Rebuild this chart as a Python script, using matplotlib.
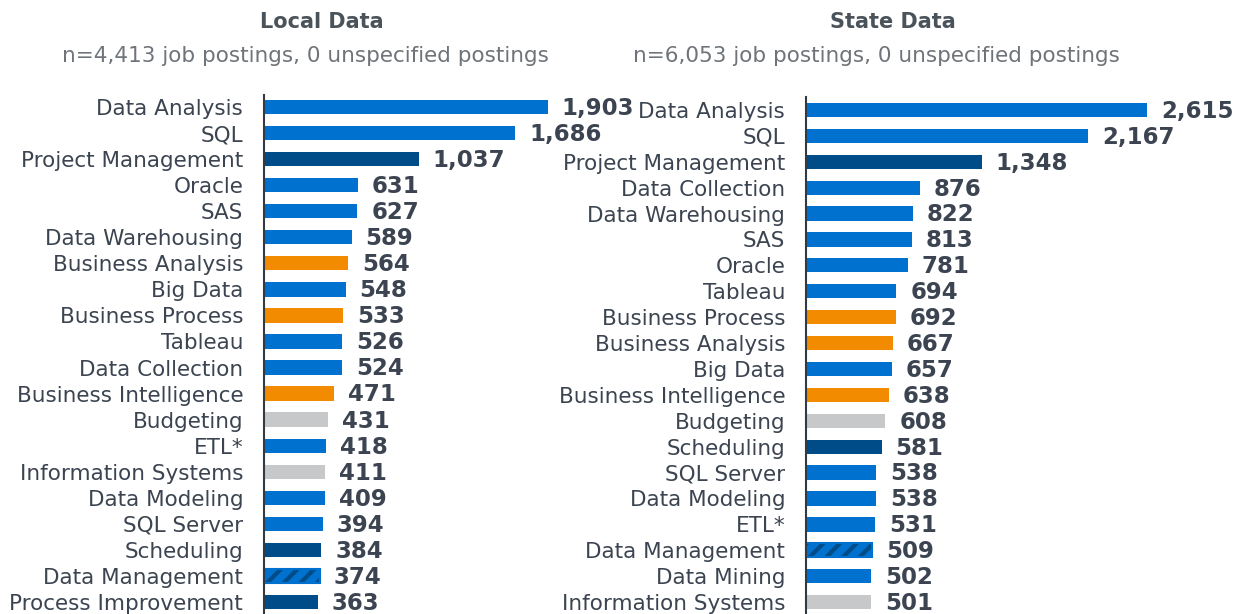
"""
Top skills in job postings: local vs state, horizontal bars.
"""
import matplotlib
matplotlib.use("Agg")
import matplotlib.pyplot as plt

# --- data ---
local_skills = ["Data Analysis", "SQL", "Project Management", "Oracle", "SAS",
                "Data Warehousing", "Business Analysis", "Big Data", "Business Process",
                "Tableau", "Data Collection", "Business Intelligence", "Budgeting",
                "ETL*", "Information Systems", "Data Modeling", "SQL Server",
                "Scheduling", "Data Management", "Process Improvement"]
local_counts = [1903, 1686, 1037, 631, 627, 589, 564, 548, 533, 526, 524, 471,
                431, 418, 411, 409, 394, 384, 374, 363]
local_groups = ["tech", "tech", "mgmt", "tech", "tech", "tech", "biz", "tech", "biz",
                "tech", "tech", "biz", "admin", "tech", "admin", "tech", "tech",
                "mgmt", "mixed", "mgmt"]

state_skills = ["Data Analysis", "SQL", "Project Management", "Data Collection",
                "Data Warehousing", "SAS", "Oracle", "Tableau", "Business Process",
                "Business Analysis", "Big Data", "Business Intelligence", "Budgeting",
                "Scheduling", "SQL Server", "Data Modeling", "ETL*", "Data Management",
                "Data Mining", "Information Systems"]
state_counts = [2615, 2167, 1348, 876, 822, 813, 781, 694, 692, 667, 657, 638,
                608, 581, 538, 538, 531, 509, 502, 501]
state_groups = ["tech", "tech", "mgmt", "tech", "tech", "tech", "tech", "tech", "biz",
                "biz", "tech", "biz", "admin", "mgmt", "tech", "tech", "tech", "mixed",
                "tech", "admin"]

titles = ["Local Data", "State Data"]
subtitles = ["n=4,413 job postings, 0 unspecified postings",
             "n=6,053 job postings, 0 unspecified postings"]

# --- style ---
BLUE, NAVY, ORANGE, GRAY = "#0071CE", "#004C88", "#F28B00", "#C6C8CA"
colors = {"tech": BLUE, "mgmt": NAVY, "biz": ORANGE, "admin": GRAY, "mixed": BLUE}
TXT = "#3B4450"

plt.rcParams["font.family"] = "DejaVu Sans"
plt.rcParams["hatch.linewidth"] = 3

W, H = 1233, 614
fig = plt.figure(figsize=(W / 100, H / 100), dpi=100)

# axes boxes in pixels; x scale set by width / xmax
panels = [
    dict(left=264, top=95, width=298, xmax=2000, ytop=-0.46,
         skills=local_skills, counts=local_counts, groups=local_groups,
         tx=322, sx=305),
    dict(left=806, top=97, width=365, xmax=2800, ytop=-0.5,
         skills=state_skills, counts=state_counts, groups=state_groups,
         tx=893, sx=876),
]

for i, p in enumerate(panels):
    ax = fig.add_axes([p["left"] / W, 0, p["width"] / W, (H - p["top"]) / H])
    n = len(p["skills"])
    ypos = list(range(n))
    for y, v, g in zip(ypos, p["counts"], p["groups"]):
        if g == "mixed":
            ax.barh(y, v, height=0.55, color=BLUE, edgecolor=NAVY,
                    hatch="//", linewidth=0, clip_on=False)
            ax.barh(y, v, height=0.55, facecolor="none", edgecolor=BLUE,
                    linewidth=1.5, clip_on=False)
        else:
            ax.barh(y, v, height=0.55, color=colors[g], linewidth=0,
                    clip_on=False)
        ax.annotate(f"{v:,}", (v, y), xytext=(10, -1), textcoords="offset points",
                    va="center", ha="left", fontsize=16.5, fontweight="bold",
                    color=TXT, annotation_clip=False)
    ax.set_xlim(0, p["xmax"])
    ax.set_ylim(19.46, p["ytop"])
    ax.set_yticks(ypos)
    ax.set_yticklabels(p["skills"], fontsize=15.5, color=TXT)
    ax.tick_params(axis="y", length=0, pad=15)
    ax.set_xticks([])
    for s in ["top", "right", "bottom"]:
        ax.spines[s].set_visible(False)
    ax.spines["left"].set_color("#333A40")
    ax.spines["left"].set_linewidth(1.5)

    fig.text(p["tx"] / W, 1 - 22 / H, titles[i], ha="center", va="center",
             fontsize=15, fontweight="bold", color="#4A525A")
    fig.text(p["sx"] / W, 1 - 56 / H, subtitles[i], ha="center", va="center",
             fontsize=15.5, color="#6E7479")

fig.savefig("out.png", dpi=100)
